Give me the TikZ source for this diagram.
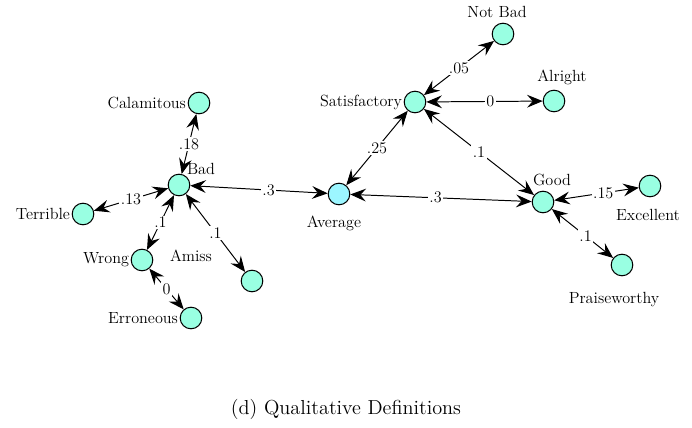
\documentclass[tikz,border=0pt]{standalone}
\usetikzlibrary{arrows.meta}
\definecolor{termfill}{HTML}{99FFE2}
\definecolor{avgfill}{HTML}{9CF6FF}
\tikzset{
	term/.style={circle, draw=black, line width=0.75pt, fill=termfill, minimum size=0.54cm, inner sep=0pt},
	link/.style={line width=0.7pt, {Stealth[length=3.9mm,width=3.2mm,inset=1.4mm]}-{Stealth[length=3.9mm,width=3.2mm,inset=1.4mm]}},
	wt/.style={fill=white, inner sep=1pt, font=\fontsize{11.5}{12}\selectfont},
	every label/.style={font=\fontsize{11.5}{12}\selectfont, inner sep=1pt}
}

\begin{document}
\begin{tikzpicture}[x=0.025cm, y=-0.025cm, font=\fontsize{11.5}{12}\selectfont]
			%%%%% START %%%%%
			\useasboundingbox (0, 0) rectangle (692, 428);
			
			\node[term, label=left:Calamitous] (calamitous) at (199, 103) {};
			\node[term] (bad) at (179, 185) {};
			\node at (201, 169) {Bad};
			\node[term, label=left:Terrible] (terrible) at (83, 214) {};
			\node[term, label=left:Wrong] (wrong) at (142, 260) {};
			\node[term, label=left:Erroneous] (erroneous) at (191, 318) {};
			\node[term] (amiss) at (252, 281) {};
			\node at (191, 256) {Amiss};
			
			\node[term, fill=avgfill] (average) at (339, 194) {};
			\node at (334, 223) {Average};
			\node[term, label=left:Satisfactory] (satisfactory) at (415, 102) {};
			\node[term] (notbad) at (503, 34) {};
			\node at (497, 12) {Not Bad};
			\node[term] (alright) at (554, 101) {};
			\node at (562, 77) {Alright};
			\node[term] (good) at (543, 202) {};
			\node at (552, 180) {Good};
			\node[term] (excellent) at (650, 186) {};
			\node at (648, 215) {Excellent};
			\node[term] (praiseworthy) at (622, 265) {};
			\node at (614, 300) {Praiseworthy};
			
			\draw[link] (calamitous) -- node[wt] {.18} (bad);
			\draw[link] (terrible) -- node[wt] {.13} (bad);
			\draw[link] (bad) -- node[wt] {.1} (wrong);
			\draw[link] (bad) -- node[wt] {.1} (amiss);
			\draw[link] (wrong) -- node[wt] {0} (erroneous);
			\draw[link] (bad) -- node[wt, pos=0.57] {.3} (average);
			\draw[link] (average) -- node[wt] {.25} (satisfactory);
			\draw[link] (satisfactory) -- node[wt] {.05} (notbad);
			\draw[link] (satisfactory) -- node[wt, pos=0.55] {0} (alright);
			\draw[link] (satisfactory) -- node[wt] {.1} (good);
			\draw[link] (average) -- node[wt, pos=0.47] {.3} (good);
			\draw[link] (good) -- node[wt, pos=0.58] {.15} (excellent);
			\draw[link] (good) -- node[wt, pos=0.55] {.1} (praiseworthy);
			
			\node[font=\Large] (caption) at (346, 409) {(d) Qualitative Definitions};
			%%%%% END %%%%%
\end{tikzpicture}
\end{document}
